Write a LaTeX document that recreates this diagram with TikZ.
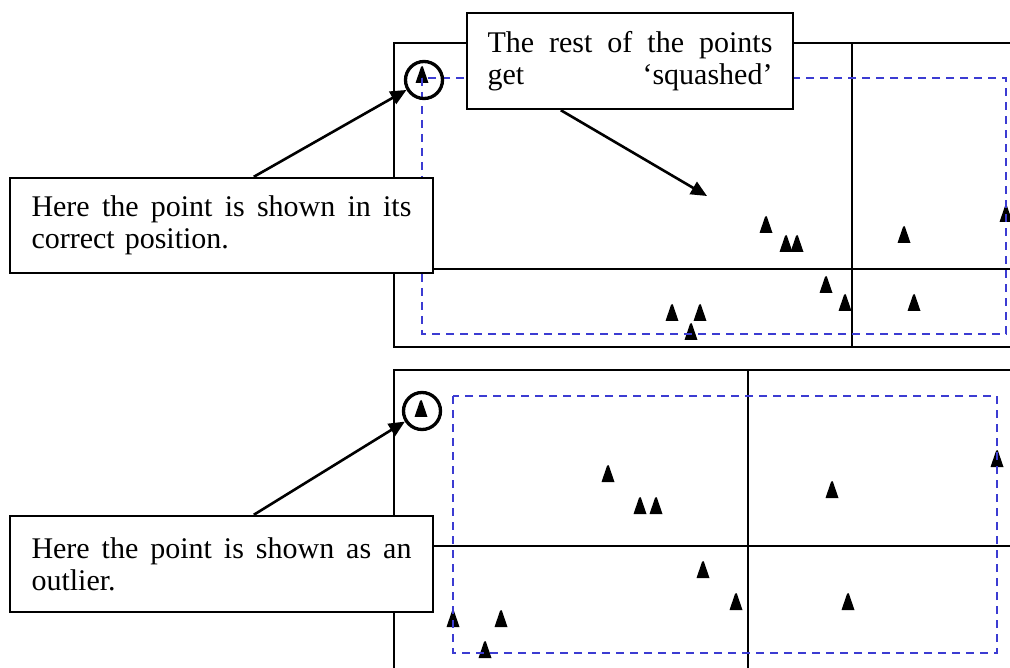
\documentclass[tikz,border=0pt]{standalone}
\usepackage{fontspec}
\setmainfont{Liberation Serif}
\usetikzlibrary{arrows.meta}
\definecolor{dashblue}{RGB}{60,60,210}
\newcommand{\spreadline}[2]{\makebox[#1][s]{\spaceskip=\fontdimen2\font plus 1fil\relax #2}}
\tikzset{
  pics/tri/.style={code={\fill (-6.5,0) -- (-1,-16) -- (0,-17) -- (1,-16) -- (6.5,0) -- cycle;}},
  frame/.style={line width=2pt, black},
  guide/.style={draw=dashblue, line width=2pt, dash pattern=on 8pt off 6pt},
  callout/.style={draw, line width=2.4pt, fill=white, align=left, inner ysep=0pt,
    font=\fontsize{30}{32}\selectfont},
  ring/.style={circle, draw, line width=3.3pt, minimum size=37pt, inner sep=0pt},
  pointer/.style={line width=2.6pt, -{Triangle[length=16pt,width=14pt]}}
}
\begin{document}
\begin{tikzpicture}[x=1pt,y=-1pt]
\clip (0,0) rectangle (1010,668);
% ---------- upper panel ----------
\draw[frame] (394,43) rectangle (1030,347);
\draw[frame] (852,43) -- (852,347);
\draw[frame] (394,269) -- (1030,269);
\foreach \x/\y in {422/83,766/233,786/252,797/252,904/243,1006/222,826/293,845/311,914/311,672/321,700/321,691/340}
  \pic at (\x,\y) {tri};
\draw[guide] (422,78) rectangle (1006,334);
\node[ring] (c1) at (424,80) {};
% ---------- lower panel ----------
\draw[frame] (394,690) -- (394,370) -- (1030,370);
\draw[frame] (748,370) -- (748,690);
\draw[frame] (394,546) -- (1030,546);
\foreach \x/\y in {421/417,608/482,640/514,656/514,703/578,736/610,453/627,501/627,485/658,832/498,848/610,997/467}
  \pic at (\x,\y) {tri};
\draw[guide] (453,396) rectangle (997,653);
\node[ring] (c2) at (422,411) {};
% ---------- callouts ----------
\node[callout, text width=380pt, inner xsep=21.5pt, minimum height=95pt] (b1) at (221.5,225.5)
  {\spreadline{380pt}{Here the point is shown in its}\\correct position.};
\node[callout, text width=285pt, inner xsep=20.5pt, minimum height=96pt] (b2) at (630,61)
  {\spreadline{285pt}{The rest of the points}\\\makebox[285pt][s]{get\hfill ‘squashed’}};
\node[callout, text width=380pt, inner xsep=21.5pt, minimum height=96pt] (b3) at (221.5,564)
  {\spreadline{380pt}{Here the point is shown as an}\\outlier.};
\coordinate (t2) at (707,196);
\draw[pointer] ([xshift=245pt]b1.north west) -- (c1);
\draw[pointer] ([xshift=95pt]b2.south west) -- (t2);
\draw[pointer] ([xshift=245pt]b3.north west) -- (c2);
\end{tikzpicture}
\end{document}
